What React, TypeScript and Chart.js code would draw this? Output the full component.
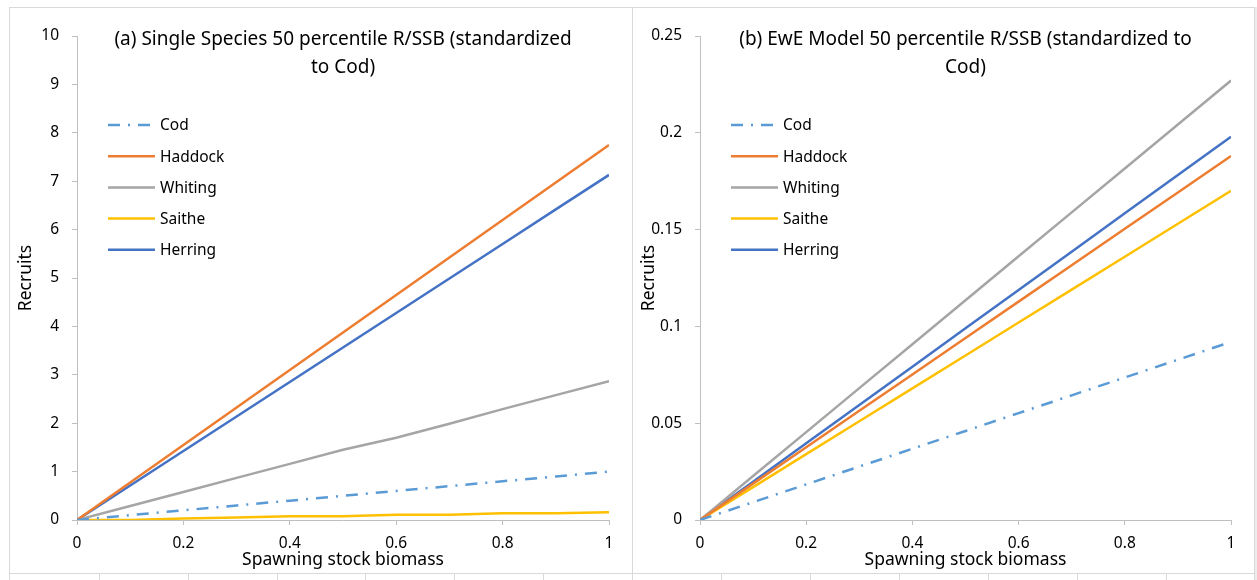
import React, { useEffect, useRef } from "react";
import { Chart, registerables } from "chart.js";

Chart.register(...registerables);

const xValues = [0, 0.1, 0.2, 0.3, 0.4, 0.5, 0.6, 0.7, 0.8, 0.9, 1];

// (a) Single species
const ssCod = [0, 0.1, 0.2, 0.3, 0.4, 0.5, 0.6, 0.7, 0.8, 0.9, 1.0];
const ssHaddock = [0, 0.775, 1.55, 2.325, 3.1, 3.875, 4.65, 5.425, 6.2, 6.975, 7.75];
const ssWhiting = [0, 0.29, 0.58, 0.87, 1.16, 1.45, 1.7, 1.99, 2.29, 2.58, 2.87];
const ssSaithe = [0, 0.0, 0.03, 0.05, 0.08, 0.08, 0.11, 0.11, 0.14, 0.14, 0.16];
const ssHerring = [0, 0.713, 1.426, 2.139, 2.852, 3.565, 4.278, 4.991, 5.704, 6.417, 7.13];

// (b) EwE model
const ewCod = [0, 0.0092, 0.0184, 0.0276, 0.0368, 0.046, 0.0552, 0.0644, 0.0736, 0.0828, 0.092];
const ewHaddock = [0, 0.0188, 0.0376, 0.0564, 0.0752, 0.094, 0.1128, 0.1316, 0.1504, 0.1692, 0.188];
const ewWhiting = [0, 0.0227, 0.0454, 0.0681, 0.0908, 0.1135, 0.1362, 0.1589, 0.1816, 0.2043, 0.227];
const ewSaithe = [0, 0.017, 0.034, 0.051, 0.068, 0.085, 0.102, 0.119, 0.136, 0.153, 0.17];
const ewHerring = [0, 0.0198, 0.0396, 0.0594, 0.0792, 0.099, 0.1188, 0.1386, 0.1584, 0.1782, 0.198];

const seriesNames = ["Cod", "Haddock", "Whiting", "Saithe", "Herring"];
const seriesColors = ["#5B9BD5", "#ED7D31", "#A5A5A5", "#FFC000", "#4472C4"];

const titleA = ["(a) Single Species 50 percentile R/SSB (standardized", "to Cod)"];
const titleB = ["(b) EwE Model 50 percentile R/SSB (standardized to", "Cod)"];
const xTitle = "Spawning stock biomass";
const yTitle = "Recruits";

const FONT = "'Noto Sans', 'Open Sans', sans-serif";
const TEXT = "#000000";
const AXIS = "#BFBFBF";

const codDash = [12, 8, 2, 8];

const fmt = (v: any) => String(Number(Number(v).toFixed(4)));

const innerTitlePlugin = {
  id: "innerTitle",
  afterDraw(chart: any, _args: any, opts: any) {
    const { ctx, chartArea } = chart;
    const lines: string[] = opts.lines || [];
    ctx.save();
    ctx.fillStyle = TEXT;
    ctx.font = `19px ${FONT}`;
    ctx.textAlign = "center";
    ctx.textBaseline = "middle";
    const cx = (chartArea.left + chartArea.right) / 2;
    lines.forEach((l, i) => ctx.fillText(l, cx, chartArea.top + 4 + i * 28));
    ctx.restore();
  },
};

const innerLegendPlugin = {
  id: "innerLegend",
  afterDraw(chart: any) {
    const { ctx, chartArea } = chart;
    ctx.save();
    ctx.font = `15.5px ${FONT}`;
    ctx.textBaseline = "middle";
    ctx.textAlign = "left";
    chart.data.datasets.forEach((ds: any, i: number) => {
      const y = chartArea.top + 89 + i * 31.2;
      const x0 = chartArea.left + 31;
      ctx.beginPath();
      ctx.strokeStyle = ds.borderColor;
      ctx.lineWidth = ds.borderWidth;
      ctx.setLineDash(ds.borderDash || []);
      ctx.moveTo(x0, y);
      ctx.lineTo(x0 + 47, y);
      ctx.stroke();
      ctx.setLineDash([]);
      ctx.fillStyle = TEXT;
      ctx.fillText(ds.label, x0 + 52, y + 1);
    });
    ctx.restore();
  },
};

function makeDatasets(series: number[][]) {
  return series.map((vals, i) => ({
    label: seriesNames[i],
    data: vals.map((v, j) => ({ x: xValues[j], y: v })),
    borderColor: seriesColors[i],
    backgroundColor: seriesColors[i],
    borderWidth: 2.5,
    borderDash: i === 0 ? codDash : [],
    pointRadius: 0,
    tension: 0,
    fill: false,
  }));
}

function ChartPanel(props: {
  series: number[][];
  yMax: number;
  yStep: number;
  title: string[];
  left: number;
  width: number;
}) {
  const ref = useRef<HTMLCanvasElement | null>(null);
  useEffect(() => {
    if (!ref.current) return;
    const chart = new Chart(ref.current, {
      type: "line",
      data: { datasets: makeDatasets(props.series) as any },
      options: {
        animation: false,
        responsive: false,
        maintainAspectRatio: false,
        layout: { padding: { top: 28, right: 23, left: 0, bottom: 0 } },
        plugins: {
          legend: { display: false },
          tooltip: { enabled: false },
          innerTitle: { lines: props.title },
        } as any,
        scales: {
          x: {
            type: "linear",
            min: 0,
            max: 1,
            ticks: { stepSize: 0.2, color: TEXT, font: { family: FONT, size: 15.5 }, padding: 9, maxRotation: 0, callback: fmt },
            grid: { display: true, drawOnChartArea: false, drawTicks: true, tickLength: 5, color: AXIS },
            border: { display: true, color: AXIS, width: 1 },
            title: { display: true, text: xTitle, color: TEXT, font: { family: FONT, size: 17.5 }, padding: { top: 0, bottom: 2 } },
            afterFit: (s: any) => { s.height = 53; },
          },
          y: {
            type: "linear",
            min: 0,
            max: props.yMax,
            ticks: { stepSize: props.yStep, color: TEXT, font: { family: FONT, size: 15.5 }, padding: 13, callback: fmt },
            grid: { display: true, drawOnChartArea: false, drawTicks: true, tickLength: 5, color: AXIS },
            border: { display: true, color: AXIS, width: 1 },
            title: { display: true, text: yTitle, color: TEXT, font: { family: FONT, size: 17.5 }, padding: { top: 6, bottom: 0 } },
            afterFit: (s: any) => { s.width = 67; },
          },
        },
      } as any,
      plugins: [innerTitlePlugin, innerLegendPlugin],
    });
    return () => chart.destroy();
  }, []);
  return (
    <canvas
      ref={ref}
      width={props.width}
      height={565}
      style={{ position: "absolute", left: props.left, top: 8, width: props.width, height: 565 }}
    />
  );
}

const cellLines = [99, 188, 277, 365, 454, 543, 632, 721, 810, 899, 988, 1077, 1166];

export default function App() {
  const line = (s: React.CSSProperties) => <div style={{ position: "absolute", background: "#D9D9D9", ...s }} />;
  return (
    <div style={{ position: "fixed", left: 0, top: 0, width: 1257, height: 580, background: "#fff", overflow: "hidden" }}>
      {line({ left: 9, top: 7, width: 1246, height: 1 })}
      {line({ left: 9, top: 7, width: 1, height: 573 })}
      {line({ left: 632, top: 7, width: 1, height: 573 })}
      {line({ left: 1254, top: 7, width: 1, height: 573 })}
      <div style={{ position: "absolute", left: 1255, top: 7, width: 2, height: 573, background: "#EDEDED" }} />
      {line({ left: 9, top: 573, width: 1246, height: 1 })}
      {cellLines.map((x) => (
        <div key={x} style={{ position: "absolute", left: x, top: 574, width: 1, height: 6, background: "#D9D9D9" }} />
      ))}
      <ChartPanel
        series={[ssCod, ssHaddock, ssWhiting, ssSaithe, ssHerring]}
        yMax={10}
        yStep={1}
        title={titleA}
        left={10}
        width={622}
      />
      <ChartPanel
        series={[ewCod, ewHaddock, ewWhiting, ewSaithe, ewHerring]}
        yMax={0.25}
        yStep={0.05}
        title={titleB}
        left={633}
        width={621}
      />
    </div>
  );
}
